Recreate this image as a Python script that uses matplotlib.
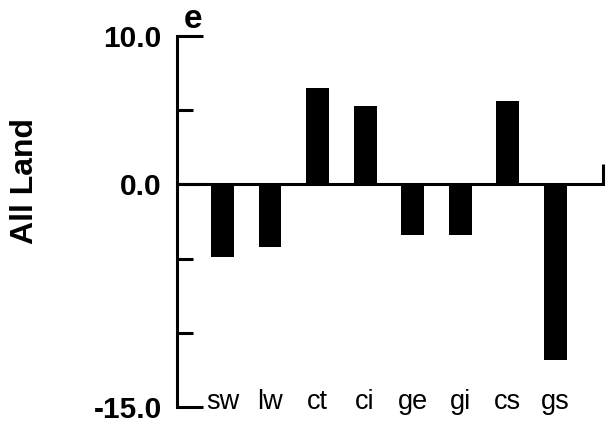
import matplotlib
matplotlib.use("Agg")
import matplotlib.pyplot as plt
from matplotlib.ticker import FixedLocator

plt.rcParams["font.family"] = ["Liberation Sans", "DejaVu Sans"]

# ===============================
# dados
# ===============================
categorias = ["sw", "lw", "ct", "ci", "ge", "gi", "cs", "gs"]
valores = [-4.9, -4.2, 6.5, 5.3, -3.4, -3.4, 5.6, -11.8]
ticks_y = [10.0, 0.0, -15.0]
ticks_y_menores = [5.0, -5.0, -10.0]
rotulo_y = "All Land"
painel = "e"

# ===============================
# figura
# ===============================
fig = plt.figure(figsize=(6.13, 4.23), dpi=100)
ax = fig.add_axes([177 / 613, 1 - 407 / 423, 426 / 613, 371 / 423])

x = list(range(len(categorias)))
ax.bar(x, valores, width=0.48, color="black", zorder=3)

ax.set_xlim(-0.956, 8.0)
ax.set_ylim(-15, 10)

# linha do zero com pequeno traço no fim
ax.axhline(0, color="black", lw=2.2, zorder=2, clip_on=False)
ax.plot([8.0, 8.0], [0, 1.4], color="black", lw=2.2, clip_on=False,
        solid_capstyle="butt")

for lado in ["top", "right", "bottom"]:
    ax.spines[lado].set_visible(False)
ax.spines["left"].set_linewidth(2.2)

ax.yaxis.set_major_locator(FixedLocator(ticks_y))
ax.yaxis.set_minor_locator(FixedLocator(ticks_y_menores))
ax.set_yticklabels([f"{v:.1f}" for v in ticks_y], fontsize=21.5,
                   fontweight="bold")
ax.tick_params(axis="y", which="major", direction="in", length=19,
               width=2.2, pad=11)
ax.tick_params(axis="y", which="minor", direction="in", length=11.5,
               width=2.2)

ax.set_xticks(x)
ax.set_xticklabels(categorias, fontsize=19.5)
ax.tick_params(axis="x", length=0, pad=-13)

fig.text(25 / 613, 1 - 181 / 423, rotulo_y, rotation=90, fontsize=23,
         fontweight="bold", ha="center", va="center")
fig.text(193 / 613, 1 - 19 / 423, painel, fontsize=24, fontweight="bold",
         ha="center", va="center")

fig.savefig("out.png", dpi=100)
